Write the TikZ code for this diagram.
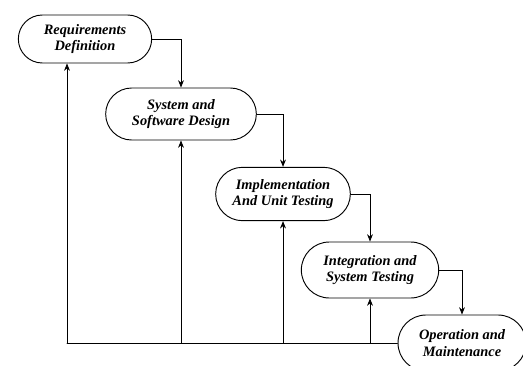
\documentclass[tikz,border=0pt]{standalone}
\usepackage{fontspec}
\setmainfont{Liberation Serif}
\usetikzlibrary{arrows.meta,shapes.misc}

\begin{document}
\begin{tikzpicture}[x=0.75pt,y=0.75pt,>={Stealth[length=5.5pt,width=4.4pt]},line cap=round,
  phase/.style={draw,rounded rectangle,line width=0.7pt,align=center,inner sep=1pt,
    font=\fontsize{10.8}{12.3}\selectfont\bfseries\itshape},
  flow/.style={->,line width=0.65pt},
  back/.style={->,line width=0.6pt}]
\useasboundingbox (0,0) rectangle (523,365);
\node[phase,minimum width=102pt,minimum height=36pt] (req) at (85,326) {Requirements\\Definition};
\node[phase,minimum width=115pt,minimum height=39pt] (sys) at (181,251) {System and\\Software Design};
\node[phase,minimum width=103pt,minimum height=40pt] (imp) at (283,171) {Implementation\\And Unit Testing};
\node[phase,minimum width=105pt,minimum height=42pt] (int) at (370,95) {Integration and\\System Testing};
\node[phase,minimum width=98pt,minimum height=42pt] (ops) at (462,22) {Operation and\\Maintenance};
\draw[flow] (req.east) -| (sys.north);
\draw[flow] (sys.east) -| (imp.north);
\draw[flow] (imp.east) -| (int.north);
\draw[flow] (int.east) -| (ops.north);
% feedback to earlier phases
\coordinate (corner) at (67,22);
\draw[line width=0.6pt] (ops.west) -- (corner);
\draw[back] (corner) -- (corner |- req.south);
\draw[back] (corner -| sys.south) -- (sys.south);
\draw[back] (corner -| imp.south) -- (imp.south);
\draw[back] (corner -| int.south) -- (int.south);
\end{tikzpicture}
\end{document}
